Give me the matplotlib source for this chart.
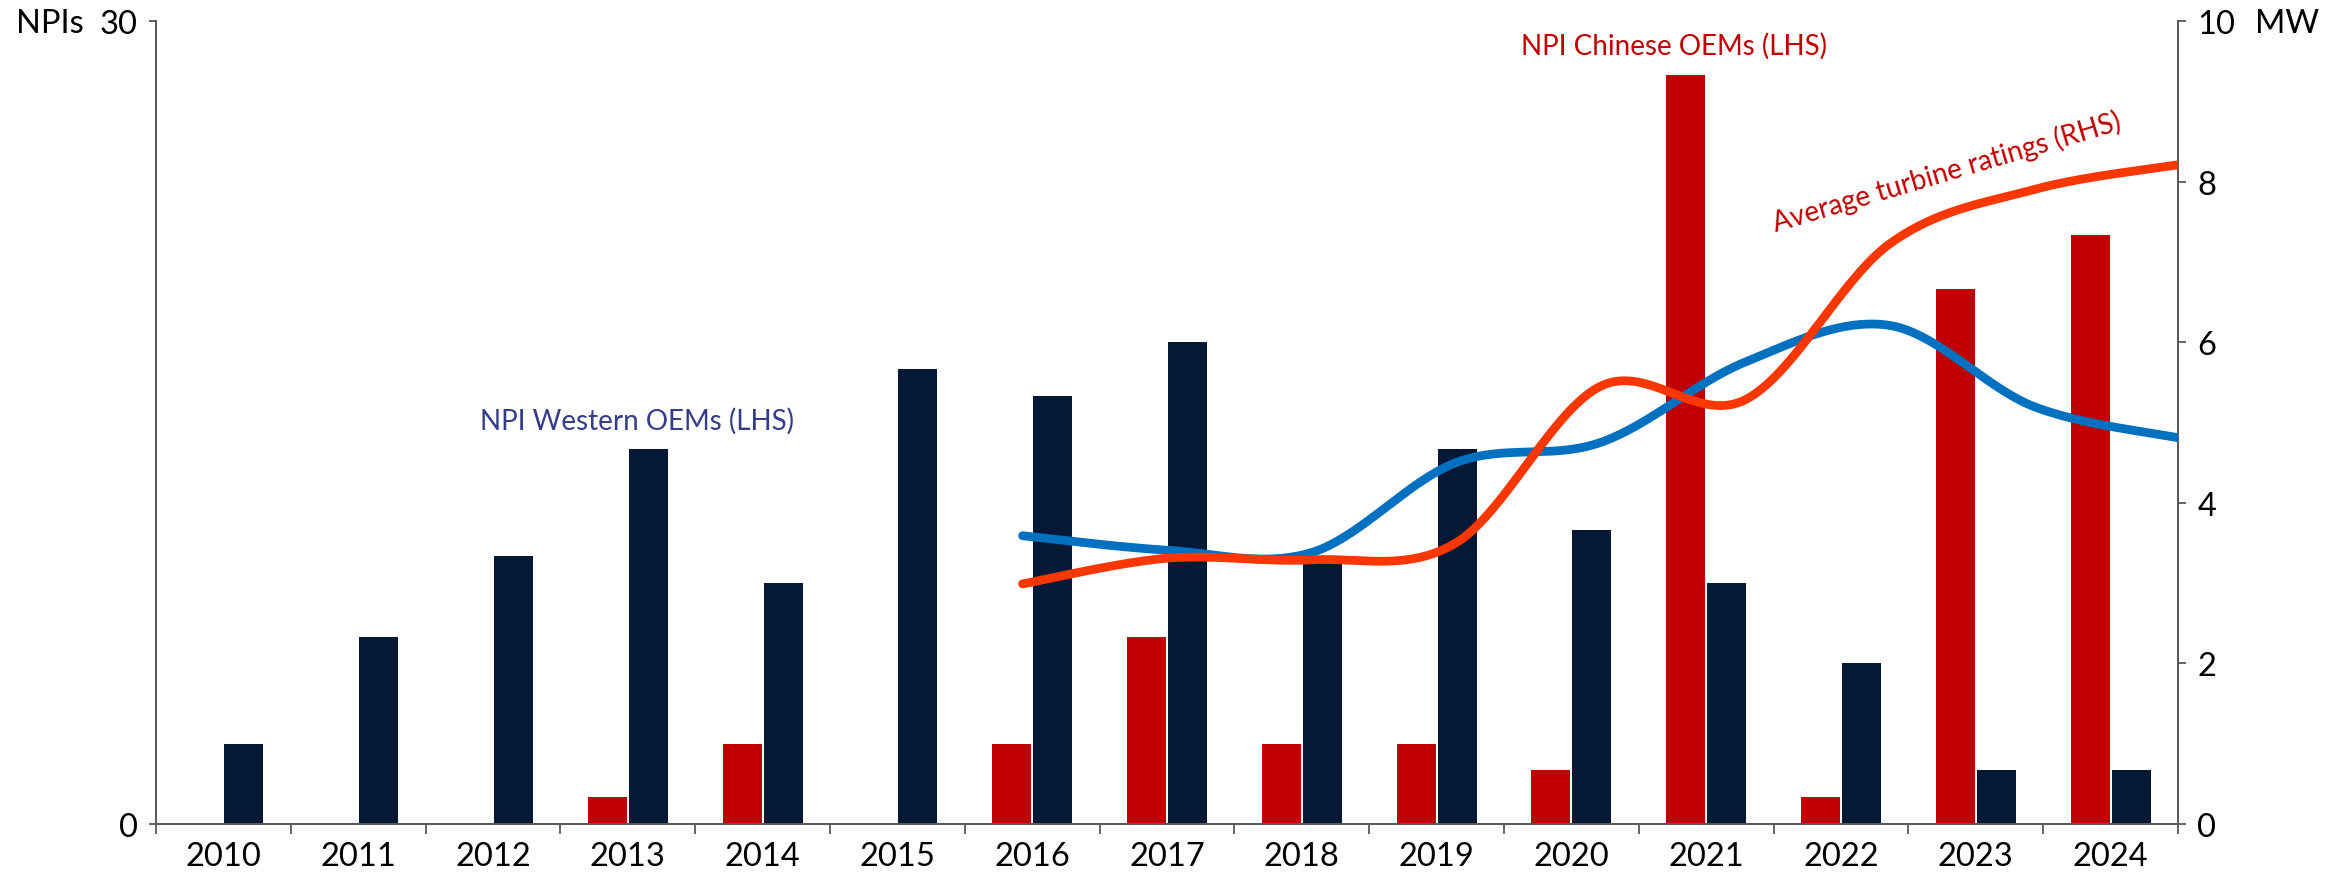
import numpy as np
import matplotlib
matplotlib.use("Agg")
import matplotlib.pyplot as plt

plt.rcParams['font.family'] = ['Lato', 'DejaVu Sans']

years = [str(y) for y in range(2010, 2025)]
npi_chinese = [0, 0, 0, 1, 3, 0, 3, 7, 3, 3, 2, 28, 1, 20, 22]
npi_western = [3, 7, 10, 14, 9, 17, 16, 18, 10, 14, 11, 9, 6, 2, 2]
# Average turbine ratings (MW), 2016-2024
rating_years_idx = [6, 7, 8, 9, 10, 11, 12, 13, 14]
rating_western = [3.59, 3.41, 3.38, 4.5, 4.75, 5.75, 6.21, 5.2, 4.81]
rating_chinese = [2.99, 3.31, 3.29, 3.5, 5.45, 5.28, 7.22, 7.9, 8.21]

NAVY = '#051937'
RED = '#C00000'
ORANGE = '#FA3700'
BLUE = '#0070C0'
GREY = '#595959'


def smooth(xs, ys, n=40):
    xs = np.asarray(xs, float)
    ys = np.asarray(ys, float)
    P = np.column_stack([xs, ys])
    out = []
    m = len(P)
    for i in range(m - 1):
        p0 = P[i - 1] if i > 0 else P[i]
        p1 = P[i]
        p2 = P[i + 1]
        p3 = P[i + 2] if i + 2 < m else P[i + 1]
        c1 = p1 + (p2 - p0) / 6.0
        c2 = p2 - (p3 - p1) / 6.0
        t = np.linspace(0, 1, n)[:, None]
        seg = ((1 - t) ** 3) * p1 + 3 * ((1 - t) ** 2) * t * c1 + 3 * (1 - t) * t ** 2 * c2 + t ** 3 * p2
        out.append(seg if i == 0 else seg[1:])
    pts = np.vstack(out)
    return pts[:, 0], pts[:, 1]


W, H = 2343, 879
fig = plt.figure(figsize=(W / 100, H / 100), dpi=100)
left, right, bottom, top = 156 / W, 2178 / W, 1 - 825 / H, 1 - 22 / H
ax = fig.add_axes([left, bottom, right - left, top - bottom])
ax2 = ax.twinx()

n = len(years)
x = np.arange(n)
bw = 0.29
off = 0.152
ax.bar(x - off, npi_chinese, width=bw, color=RED, zorder=2)
ax.bar(x + off, npi_western, width=bw, color=NAVY, zorder=2)

ax.set_xlim(-0.5, n - 0.5)
ax.set_ylim(0, 30)
ax2.set_ylim(0, 10)

# line positions: secondary category axis "on tick marks" spanning full width
lx = [-0.5 + i * n / (n - 1) for i in rating_years_idx]
sx, sy = smooth(lx, rating_western)
ax2.plot(sx, sy, color=BLUE, lw=6.3, solid_capstyle='round', zorder=3)
sx, sy = smooth(lx, rating_chinese)
ax2.plot(sx, sy, color=ORANGE, lw=6.3, solid_capstyle='round', zorder=4)

fs = 23.5
ax.set_xticks(x)
ax.set_xticklabels(years, fontsize=fs)
ax.set_xticks(np.arange(-0.5, n, 1.0), minor=True)
ax.tick_params(axis='x', which='major', length=0, pad=12)
ax.tick_params(axis='x', which='minor', length=7, width=1.3, color=GREY, direction='out')
ax.set_yticks([0, 30])
ax.set_yticklabels(['0', '30'], fontsize=fs)
ax.tick_params(axis='y', length=5, width=1.3, color=GREY, direction='out', pad=8)
ax2.set_yticks([0, 2, 4, 6, 8, 10])
ax2.set_yticklabels(['0', '2', '4', '6', '8', '10'], fontsize=fs)
ax2.tick_params(axis='y', length=6, width=1.3, color=GREY, direction='out', pad=8)

for a in (ax, ax2):
    a.spines['top'].set_visible(False)
    for s in ('left', 'right', 'bottom'):
        a.spines[s].set_color(GREY)
        a.spines[s].set_linewidth(1.3)

fig.text(16 / W, 1 - 24 / H, 'NPIs', fontsize=fs, ha='left', va='center')
fig.text(2255 / W, 1 - 24 / H, 'MW', fontsize=fs, ha='left', va='center')

ax.text(3.07, 15.1, 'NPI Western OEMs (LHS)', color='#353C8A', fontsize=20,
        ha='center', va='center')
ax.text(10.76, 29.1, 'NPI Chinese OEMs (LHS)', color=RED, fontsize=20,
        ha='center', va='center')
ax.text(12.78, 24.4, 'Average turbine ratings (RHS)', color=RED, fontsize=20,
        ha='center', va='center', rotation=16.5, rotation_mode='anchor')

fig.savefig('out.png', dpi=100)
